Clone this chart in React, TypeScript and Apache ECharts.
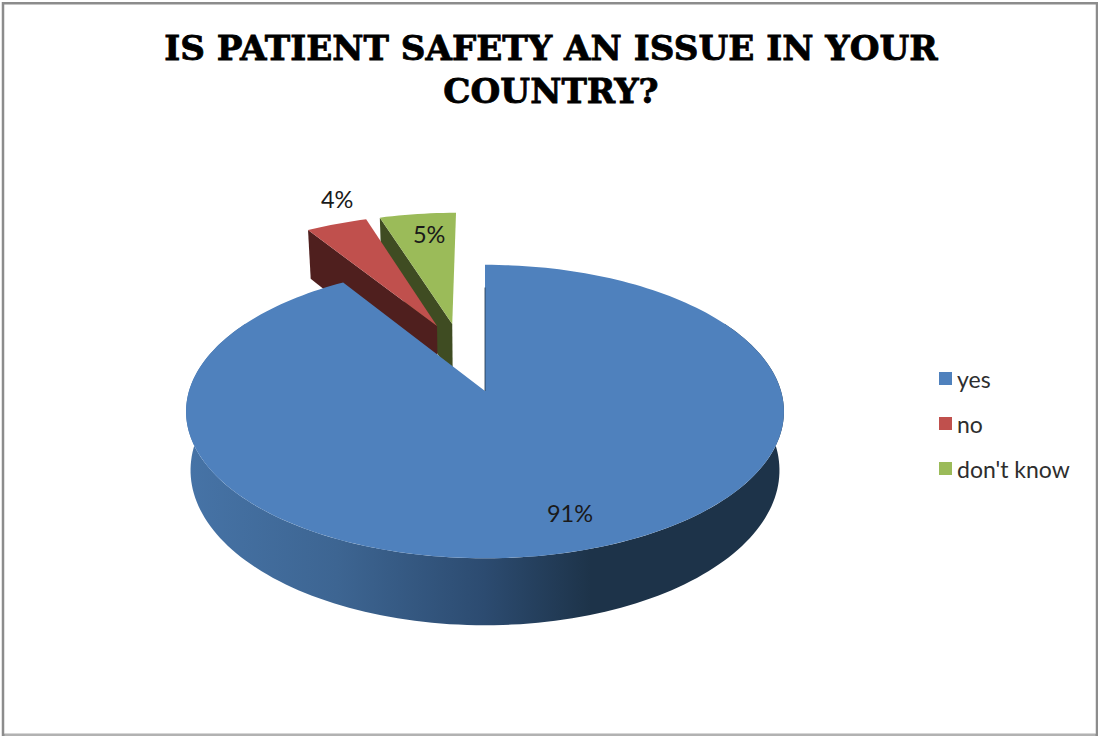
import React, { useEffect, useRef } from "react";
import * as echarts from "echarts";

const titleText = "IS PATIENT SAFETY AN ISSUE IN YOUR\nCOUNTRY?";
const categories = ["yes", "no", "don't know"];
const values = [91, 4, 5];
const labels = ["91%", "4%", "5%"];

const topColors = ["#4f81bd", "#c0504d", "#9bbb59"];
const sideColors = ["#1d3349", "#4f1f1e", "#3f4c22"];
const explode = [92, 60, 60];
const labelRadius = [0.8, 1.243, 0.798];
const labelShift = [-2.5, 4.4, 1.5];
const zOrder = [3, 2, 1];

// 3D projection parameters, in pixels
const apexX = 485;
const apexY = 391;
const R = 296;
const squash = 0.486;
const persp = 0.14;
const depth = 57.6;
const lowerScale = 0.985;

const total = values.reduce((a, b) => a + b, 0);
const rad = (d: number) => (d * Math.PI) / 180;

const starts: number[] = [];
values.reduce((acc, v, i) => {
  starts[i] = acc;
  return acc + (v / total) * 360;
}, 0);
const spans = values.map((v) => (v / total) * 360);
const mids = spans.map((s, i) => starts[i] + s / 2);

// The whole pie's centre: the first slice's vertex is the projection origin
const cX = -explode[0] * Math.sin(rad(mids[0]));
const cY = -explode[0] * Math.cos(rad(mids[0]));

const project = (X: number, Y: number, low = false): number[] => {
  const k = 1 / (1 + (persp * Y) / R);
  const f = low ? lowerScale : 1;
  return [apexX + X * k * f, apexY - Y * squash * k + (low ? depth * k : 0)];
};

const sliceOrigin = (i: number) => [
  cX + explode[i] * Math.sin(rad(mids[i])),
  cY + explode[i] * Math.cos(rad(mids[i])),
];

const rimPoint = (i: number, deg: number, low = false, r = R) => {
  const [ox, oy] = sliceOrigin(i);
  return project(ox + r * Math.sin(rad(deg)), oy + r * Math.cos(rad(deg)), low);
};

const arc = (i: number, a: number, b: number, low = false) => {
  const n = Math.max(4, Math.ceil(Math.abs(b - a) / 1.5));
  const pts: number[][] = [];
  for (let s = 0; s <= n; s++) pts.push(rimPoint(i, a + ((b - a) * s) / n, low));
  return pts;
};

const wallGradient = new echarts.graphic.LinearGradient(
  190,
  0,
  780,
  0,
  [
    { offset: 0, color: "#4673a6" },
    { offset: 0.25, color: "#3d6592" },
    { offset: 0.5, color: "#2c4b70" },
    { offset: 0.68, color: "#1d3349" },
    { offset: 1, color: "#1d3349" },
  ],
  true
);

const renderSlice = (i: number) => (_params: any, api: any) => {
  const value = api.value(0) as number;
  const span = (value / total) * 360;
  const a = starts[i];
  const b = a + span;
  const [ox, oy] = sliceOrigin(i);
  const apexTop = project(ox, oy);
  const apexLow = project(ox, oy, true);
  const children: any[] = [];

  if (i === 0) {
    const lo = Math.max(a, 60);
    const hi = Math.min(b, 300);
    children.push({
      type: "polygon",
      shape: { points: [...arc(i, lo, hi), ...arc(i, hi, lo, true)] },
      style: { fill: wallGradient },
    });
  } else {
    children.push({
      type: "polygon",
      shape: { points: [rimPoint(i, a), apexTop, apexLow, rimPoint(i, a, true)] },
      style: { fill: sideColors[i] },
    });
  }
  children.push({
    type: "polygon",
    shape: { points: [apexTop, ...arc(i, a, b)] },
    style: { fill: topColors[i] },
  });
  if (i === 0) {
    const q = project(ox, oy + R * 0.8);
    children.push({
      type: "line",
      shape: { x1: apexTop[0], y1: apexTop[1], x2: q[0], y2: q[1] },
      style: { stroke: sideColors[0], lineWidth: 0.8 },
    });
  }
  const lp = rimPoint(i, mids[i] + labelShift[i], false, R * labelRadius[i]);
  children.push({
    type: "text",
    z2: 10,
    style: {
      text: labels[i],
      x: lp[0],
      y: lp[1],
      fill: "#1a1a1a",
      font: '23.5px Lato, "Open Sans", sans-serif',
      align: "center",
      verticalAlign: "middle",
    },
  });
  return { type: "group", children };
};

export default function App() {
  const ref = useRef<HTMLDivElement>(null);
  useEffect(() => {
    document.body.style.margin = "0";
    const chart = echarts.init(ref.current!, undefined, { renderer: "svg" });
    chart.setOption({
      animation: false,
      backgroundColor: "#ffffff",
      color: topColors,
      title: {
        text: titleText,
        left: 546,
        top: 21,
        textAlign: "center",
        textStyle: {
          fontFamily: '"DejaVu Serif", serif',
          fontWeight: "bold",
          fontSize: 34.2,
          lineHeight: 43,
          color: "#000000",
          textBorderColor: "#000000",
          textBorderWidth: 0.8,
        },
      },
      legend: {
        orient: "vertical",
        left: 934,
        top: 360,
        itemWidth: 13,
        itemHeight: 13,
        itemGap: 18,
        icon: "rect",
        data: categories,
        textStyle: {
          fontFamily: 'Lato, "Open Sans", sans-serif',
          fontSize: 23,
          color: "#2e2e2e",
          lineHeight: 27,
        },
      },
      graphic: [
        {
          type: "rect",
          silent: true,
          shape: { x: 3, y: 3.2, width: 1094, height: 731.8 },
          style: { fill: "none", stroke: "#8c8c8c", lineWidth: 2.5 },
        },
        {
          type: "line",
          silent: true,
          shape: { x1: 4.5, y1: 735, x2: 1095.5, y2: 735 },
          style: { stroke: "#b2b2b2", lineWidth: 2.5 },
        },
      ],
      series: categories.map((name, i) => ({
        type: "custom",
        name,
        coordinateSystem: "none",
        z: zOrder[i],
        silent: true,
        itemStyle: { color: topColors[i] },
        data: [[values[i]]],
        renderItem: renderSlice(i),
      })),
    });
    return () => chart.dispose();
  }, []);
  return <div ref={ref} style={{ width: 1098, height: 736 }} />;
}
